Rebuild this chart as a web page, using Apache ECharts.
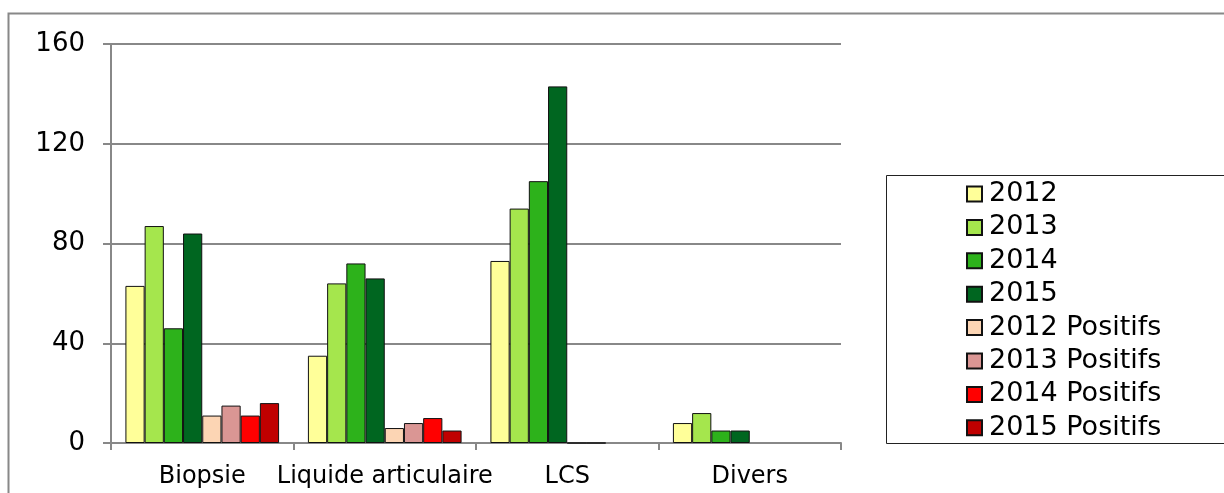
<!DOCTYPE html>
<html>
<head>
<meta charset="utf-8">
<script src="https://cdn.jsdelivr.net/npm/echarts@6/dist/echarts.min.js"></script>
<style>
  html, body { margin: 0; padding: 0; background: #fff; }
  #chart { width: 1224px; height: 493px; }
</style>
</head>
<body>
<div id="chart"></div>
<script>
// catégories et valeurs
var categories = ['Biopsie', 'Liquide articulaire', 'LCS', 'Divers']
var seriesNames = ['2012', '2013', '2014', '2015', '2012 Positifs', '2013 Positifs', '2014 Positifs', '2015 Positifs']
var total2012 = [63, 35, 73, 8]
var total2013 = [87, 64, 94, 12]
var total2014 = [46, 72, 105, 5]
var total2015 = [84, 66, 143, 5]
var pos2012 = [11, 6, 0, null]
var pos2013 = [15, 8, 0, null]
var pos2014 = [11, 10, null, null]
var pos2015 = [16, 5, null, null]
var yTicks = [0, 40, 80, 120, 160]

var colors = ['#ffff99', '#a5e64d', '#2db21b', '#006620', '#fcd5b4', '#da9694', '#ff0000', '#c00000']
var values = [total2012, total2013, total2014, total2015, pos2012, pos2013, pos2014, pos2015]

var font = 'DejaVu Sans, Verdana, sans-serif'
var chart = echarts.init(document.getElementById('chart'))

chart.setOption({
  animation: false,
  color: colors,
  textStyle: { fontFamily: font },
  grid: { left: 111, right: 383, top: 44, bottom: 50 },
  legend: {
    orient: 'vertical',
    left: 966,
    top: 180.5,
    padding: 0,
    itemGap: 6.4,
    itemWidth: 15,
    itemHeight: 15,
    icon: 'rect',
    selectedMode: false,
    textStyle: { fontSize: 27, color: '#000', fontFamily: font, padding: [0, 0, 0, 2] },
    data: seriesNames
  },
  graphic: [
    // cadre extérieur (coupé à droite et en bas)
    {
      type: 'polyline', silent: true, z: -1,
      shape: { points: [[8.5, 493], [8.5, 13.5], [1224, 13.5]] },
      style: { stroke: '#888', lineWidth: 2, fill: null }
    },
    // cadre de la légende
    {
      type: 'rect', silent: true, z: -1,
      shape: { x: 886.5, y: 175.5, width: 345, height: 268 },
      style: { stroke: '#222', lineWidth: 1, fill: null }
    }
  ],
  xAxis: {
    type: 'category',
    data: categories,
    axisLine: { lineStyle: { color: '#888', width: 2 } },
    axisTick: { show: true, length: 7, lineStyle: { color: '#888', width: 2 } },
    axisLabel: { fontSize: 24, color: '#000', margin: 22, interval: 0, hideOverlap: false, fontFamily: font }
  },
  yAxis: {
    type: 'value',
    min: yTicks[0],
    max: yTicks[yTicks.length - 1],
    interval: yTicks[1] - yTicks[0],
    axisLine: { show: true, lineStyle: { color: '#888', width: 2 } },
    axisTick: { show: true, length: 8, lineStyle: { color: '#888', width: 2 } },
    splitLine: { lineStyle: { color: '#888', width: 2 } },
    axisLabel: { fontSize: 26, color: '#000', margin: 26, fontFamily: font }
  },
  series: seriesNames.map(function(name, i) {
    return {
      name: name,
      type: 'bar',
      data: values[i],
      barGap: '0%',
      barCategoryGap: '15.8%',
      itemStyle: {
        color: colors[i],
        borderColor: '#111',
        borderWidth: 1
      }
    }
  })
})
</script>
</body>
</html>
